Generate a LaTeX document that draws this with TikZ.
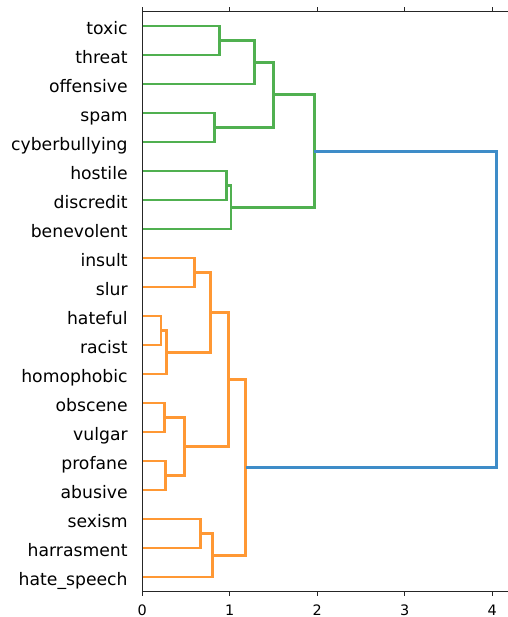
\documentclass[tikz,border=0pt]{standalone}
\usepackage{fontspec}
\setmainfont{DejaVu Sans}
\usetikzlibrary{positioning}
\definecolor{dgreen}{RGB}{80,176,80}
\definecolor{dorange}{RGB}{255,152,52}
\definecolor{dblue}{RGB}{62,140,200}
\colorlet{spine}{black!85}
\tikzstyle{leaf}=[anchor=east, inner xsep=0.286cm, inner ysep=0pt,
  text height=0.332cm, text depth=0pt, font=\fontsize{9.8}{11}\selectfont]
\tikzstyle{ticklabel}=[inner sep=0pt, font=\fontsize{8.2}{10}\selectfont]
\tikzstyle{glink}=[dgreen, line width=1.7pt]
\tikzstyle{olink}=[dorange, line width=1.7pt]
\tikzstyle{blink}=[dblue, line width=1.7pt]
\tikzstyle{axis}=[spine, line width=0.7pt]

\begin{document}
\begin{tikzpicture}[x=1.75cm, y=0.058cm]
  \useasboundingbox (-1.626,-8.793) rectangle (4.179,203.97);

  % leaves
  \node[leaf] (toxic)         at (0,195) {toxic};
  \node[leaf] (threat)        at (0,185) {threat};
  \node[leaf] (offensive)     at (0,175) {offensive};
  \node[leaf] (spam)          at (0,165) {spam};
  \node[leaf] (cyberbullying) at (0,155) {cyberbullying};
  \node[leaf] (hostile)       at (0,145) {hostile};
  \node[leaf] (discredit)     at (0,135) {discredit};
  \node[leaf] (benevolent)    at (0,125) {benevolent};
  \node[leaf] (insult)        at (0,115) {insult};
  \node[leaf] (slur)          at (0,105) {slur};
  \node[leaf] (hateful)       at (0,95)  {hateful};
  \node[leaf] (racist)        at (0,85)  {racist};
  \node[leaf] (homophobic)    at (0,75)  {homophobic};
  \node[leaf] (obscene)       at (0,65)  {obscene};
  \node[leaf] (vulgar)        at (0,55)  {vulgar};
  \node[leaf] (profane)       at (0,45)  {profane};
  \node[leaf] (abusive)       at (0,35)  {abusive};
  \node[leaf] (sexism)        at (0,25)  {sexism};
  \node[leaf] (harrasment)    at (0,15)  {harrasment};
  \node[leaf] (hatespeech)    at (0,5)   {hate\_speech};

  % merge points
  \coordinate (tt)     at (0.877,190);
  \coordinate (tto)    at (1.288,182.5);
  \coordinate (sc)     at (0.823,160);
  \coordinate (g1)     at (1.505,171.25);
  \coordinate (hd)     at (0.965,140);
  \coordinate (hdb)    at (1.014,132.5);
  \coordinate (green)  at (1.966,151.875);
  \coordinate (is)     at (0.602,110);
  \coordinate (hr)     at (0.214,90);
  \coordinate (hrh)    at (0.279,82.5);
  \coordinate (o1)     at (0.785,96.25);
  \coordinate (ov)     at (0.259,60);
  \coordinate (pa)     at (0.263,40);
  \coordinate (o2)     at (0.488,50);
  \coordinate (o3)     at (0.983,73.125);
  \coordinate (sh)     at (0.671,20);
  \coordinate (shh)    at (0.805,12.5);
  \coordinate (orange) at (1.185,42.8125);
  \coordinate (root)   at (4.05,97.34);

  \draw[glink] (toxic) -| (tt) |- (threat);
  \draw[glink] (tt) -| (tto) |- (offensive);
  \draw[glink] (spam) -| (sc) |- (cyberbullying);
  \draw[glink] (tto) -| (g1) |- (sc);
  \draw[glink] (hostile) -| (hd) |- (discredit);
  \draw[glink] (hd) -| (hdb) |- (benevolent);
  \draw[glink] (g1) -| (green) |- (hdb);

  \draw[olink] (insult) -| (is) |- (slur);
  \draw[olink] (hateful) -| (hr) |- (racist);
  \draw[olink] (hr) -| (hrh) |- (homophobic);
  \draw[olink] (is) -| (o1) |- (hrh);
  \draw[olink] (obscene) -| (ov) |- (vulgar);
  \draw[olink] (profane) -| (pa) |- (abusive);
  \draw[olink] (ov) -| (o2) |- (pa);
  \draw[olink] (o1) -| (o3) |- (o2);
  \draw[olink] (sexism) -| (sh) |- (harrasment);
  \draw[olink] (sh) -| (shh) |- (hatespeech);
  \draw[olink] (o3) -| (orange) |- (shh);

  \draw[blink] (green) -| (root) |- (orange);

  % axes
  \draw[axis] (0,200) -- (0,0) -- (4.179,0);
  \draw[axis] (0,200) -- (4.179,200);
  \draw[axis] (0,0) -- (0,-1.72) (1,0) -- (1,-1.72) (2,0) -- (2,-1.72)
    (3,0) -- (3,-1.72) (4,0) -- (4,-1.72);
  \draw[axis] (0,200) -- (0,201.72) (1,200) -- (1,201.72) (2,200) -- (2,201.72)
    (3,200) -- (3,201.72) (4,200) -- (4,201.72);
  \node[ticklabel] (x0) at (0,-6.4) {0};
  \node[ticklabel] (x1) at (1,-6.4) {1};
  \node[ticklabel] (x2) at (2,-6.4) {2};
  \node[ticklabel] (x3) at (3,-6.4) {3};
  \node[ticklabel] (x4) at (4,-6.4) {4};
\end{tikzpicture}
\end{document}
